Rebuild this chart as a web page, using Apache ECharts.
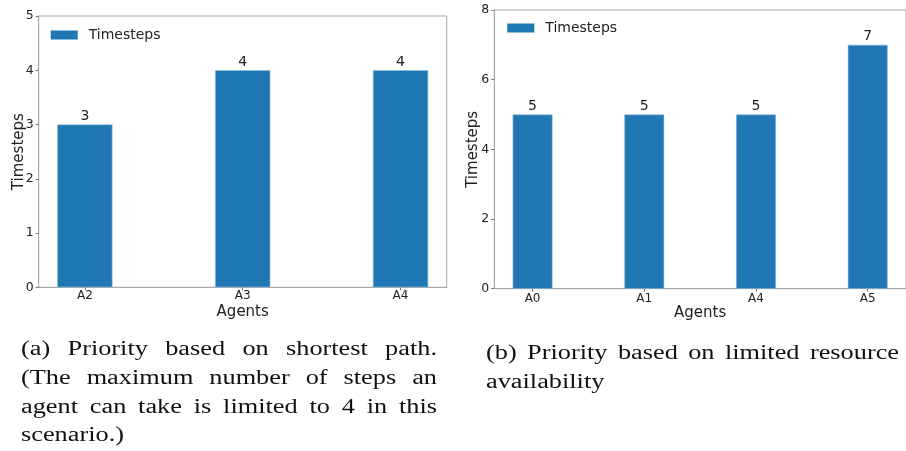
<!DOCTYPE html>
<html>
<head>
<meta charset="utf-8">
<script src="https://cdn.jsdelivr.net/npm/echarts@6/dist/echarts.min.js"></script>
<style>
html,body{margin:0;padding:0;background:#fff;}
#chart{width:906px;height:451px;}
</style>
</head>
<body>
<div id="chart"></div>
<script>
// ---- data ----
const categoriesA = ['A2', 'A3', 'A4'];
const valuesA = [3, 4, 4];
const categoriesB = ['A0', 'A1', 'A4', 'A5'];
const valuesB = [5, 5, 5, 7];
const yMaxA = 5, yStepA = 1;
const yMaxB = 8, yStepB = 2;
const seriesName = 'Timesteps';
const xAxisName = 'Agents';
const yAxisName = 'Timesteps';
const captionA = [
  '(a) Priority based on shortest path.',
  '(The maximum number of steps an',
  'agent can take is limited to 4 in this',
  'scenario.)'
];
const captionB = [
  '(b) Priority based on limited resource',
  'availability'
];

// ---- layout ----
const W = 906, H = 451;
const BAR_FRAC = 0.35;
function xRange(n) {
  const lo = -BAR_FRAC / 2, hi = (n - 1) + BAR_FRAC / 2;
  const m = (hi - lo) * 0.05;
  return [lo - m, hi + m];
}
const gA = { left: 38.7, right: W - 446.7, top: 16, bottom: H - 287.3 };
const gB = { left: 494.3, right: W - 914, top: 10, bottom: H - 288.7 };
const rA = xRange(categoriesA.length), rB = xRange(categoriesB.length);
const bwA = (W - gA.left - gA.right) / (rA[1] - rA[0]) * BAR_FRAC;
const bwB = (W - gB.left - gB.right) / (rB[1] - rB[0]) * BAR_FRAC;

const TXT = '#222';
const SPINE = '#a8a8a8';
const BAR = '#1f77b4';
const FONT = 'DejaVu Sans';

function xAxisCfg(idx, cats, r, labelMargin) {
  const ticks = cats.map((c, i) => i);
  return {
    type: 'value', gridIndex: idx, min: r[0], max: r[1],
    name: xAxisName, nameLocation: 'middle', nameGap: 17, nameMoveOverlap: false,
    nameTextStyle: { fontFamily: FONT, fontSize: 15, color: TXT },
    axisLine: { show: true, onZero: false, lineStyle: { color: SPINE, width: 1 } },
    axisTick: { show: true, length: 3, customValues: ticks, lineStyle: { color: '#777' } },
    axisLabel: { customValues: ticks, margin: labelMargin, fontFamily: FONT, fontSize: 12, color: TXT,
      formatter: v => cats[Math.round(v)] },
    splitLine: { show: false }
  };
}
function yAxisCfg(idx, max, step, gap, margin) {
  return {
    type: 'value', gridIndex: idx, min: 0, max: max, interval: step,
    name: yAxisName, nameLocation: 'middle', nameGap: gap, nameRotate: 90, nameMoveOverlap: false,
    nameTextStyle: { fontFamily: FONT, fontSize: 15, color: TXT },
    axisLine: { show: true, onZero: false, lineStyle: { color: SPINE, width: 1 } },
    axisTick: { show: true, length: 3, lineStyle: { color: '#777' } },
    axisLabel: { margin: margin, fontFamily: FONT, fontSize: 12.5, color: TXT },
    splitLine: { show: false }
  };
}
function barSeries(idx, vals, bw) {
  return {
    type: 'bar', name: seriesName, xAxisIndex: idx, yAxisIndex: idx,
    data: vals.map((v, i) => [i, v]), barWidth: bw,
    itemStyle: { color: BAR, borderColor: '#8fb8db', borderWidth: 0.6 },
    label: { show: true, position: 'top', distance: 1, fontFamily: FONT, fontSize: 14, color: TXT },
    emphasis: { disabled: true }, animation: false
  };
}

// ---- caption (justified, word by word) ----
const capFont = '20px "Liberation Serif"';
const ctx = document.createElement('canvas').getContext('2d');
ctx.font = capFont;
const mw = t => ctx.measureText(t).width;
const capScale = 103 / mw('scenario.)');
function captionEls(lines, x0, width, baseline0, lh) {
  const els = [];
  lines.forEach((line, li) => {
    const words = line.split(' ');
    const ws = words.map(w => mw(w) * capScale);
    const total = ws.reduce((a, b) => a + b, 0);
    const last = li === lines.length - 1;
    const gap = (last || words.length < 2) ? mw(' ') * capScale * 1.25 : (width - total) / (words.length - 1);
    let x = x0;
    const y = baseline0 + li * lh;
    words.forEach((w, wi) => {
      els.push({
        type: 'text', x: x, y: y, scaleX: capScale, silent: true,
        style: { text: w, font: capFont, fill: '#111', textAlign: 'left', textVerticalAlign: 'bottom' }
      });
      x += ws[wi] + gap;
    });
  });
  return els;
}

const chart = echarts.init(document.getElementById('chart'), null, { renderer: 'canvas' });
const legendCfg = (left, top) => ({
  data: [seriesName], left: left, top: top, padding: 0, icon: 'rect', itemWidth: 27, itemHeight: 9,
  itemStyle: { borderWidth: 0 },
  textStyle: { fontFamily: FONT, fontSize: 14, color: TXT, padding: [0, 0, 0, 6] }, selectedMode: false
});
const option = {
  animation: false,
  backgroundColor: '#fff',
  grid: [
    Object.assign({ show: true, borderColor: SPINE, borderWidth: 1, backgroundColor: 'transparent' }, gA),
    Object.assign({ show: true, borderColor: SPINE, borderWidth: 1, backgroundColor: 'transparent' }, gB)
  ],
  legend: [legendCfg(50.7, 28), legendCfg(507.3, 21)],
  xAxis: [xAxisCfg(0, categoriesA, rA, 3), xAxisCfg(1, categoriesB, rB, 4)],
  yAxis: [yAxisCfg(0, yMaxA, yStepA, 12, 5), yAxisCfg(1, yMaxB, yStepB, 14, 5)],
  series: [barSeries(0, valuesA, bwA), barSeries(1, valuesB, bwB)],
  graphic: captionEls(captionA, 21, 416, 360, 28.7).concat(captionEls(captionB, 486, 413, 364, 28.7))
};
chart.setOption(option);
</script>
</body>
</html>
